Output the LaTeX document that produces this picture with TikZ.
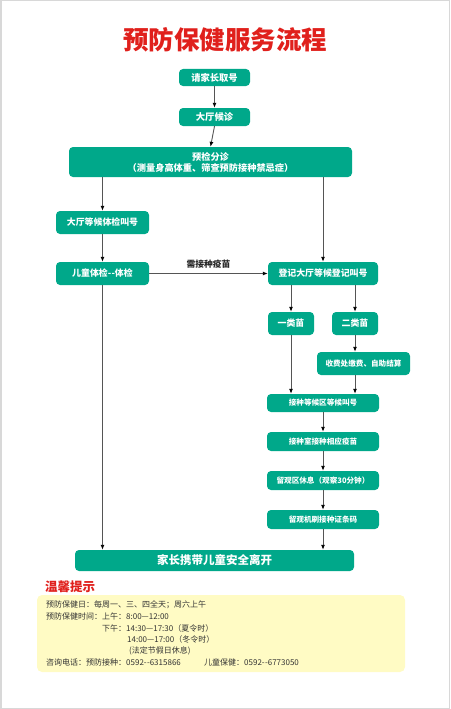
\documentclass[tikz,border=0pt]{standalone}
\usepackage{fontspec}
\setmainfont{Noto Sans CJK SC}
\newfontfamily\cjk{Noto Sans CJK SC}
\usetikzlibrary{arrows.meta}
\definecolor{teal1}{HTML}{00A88A}
\definecolor{titlered}{HTML}{E0201C}
\definecolor{noteyel}{HTML}{FFFBC4}
\definecolor{linegray}{HTML}{555555}
\definecolor{framegray}{HTML}{D8D8D8}
\newcommand{\dd}{-\kern0.3pt-}
\begin{document}
\begin{tikzpicture}[x=1pt,y=-1pt,
  box/.style={fill=teal1,rounded corners=4pt,text=white,font=\cjk\bfseries\fontsize{8.9}{10.5}\selectfont,inner sep=0pt,align=center},
  sbox/.style={box,font=\cjk\bfseries\fontsize{7.6}{9}\selectfont},
  arr/.style={draw=linegray,line width=0.9pt,-{Latex[length=5pt,width=4pt,color=black]}},
  note/.style={anchor=west,font=\cjk\fontsize{8}{9}\selectfont,text=black!80,inner sep=0pt}]
\useasboundingbox (0,0) rectangle (450,709);
\draw[framegray,line width=1.5pt] (0.75,0.75) rectangle (449.25,708.25);
\node[font=\cjk\bfseries\fontsize{25.5}{28}\selectfont,text=titlered] (title) at (225,40) {预防保健服务流程};
\node[box,minimum width=71pt,minimum height=17pt,font=\cjk\bfseries\fontsize{9.3}{10}\selectfont] (b1) at (214.5,77.5) {请家长取号};
\node[box,minimum width=71pt,minimum height=18pt,font=\cjk\bfseries\fontsize{9.3}{10}\selectfont] (b2) at (214.5,117) {大厅候诊};
\node[box,minimum width=283pt,minimum height=30pt,font=\cjk\bfseries\fontsize{9.2}{11}\selectfont] (b3) at (210.5,162) {预检分诊\\（测量身高体重、筛查预防接种禁忌症）};
\node[box,minimum width=93pt,minimum height=23pt] (b4) at (102.5,222.5) {大厅等候体检叫号};
\node[box,minimum width=93pt,minimum height=23pt] (b5) at (102.5,273.5) {儿童体检\dd 体检};
\node[box,minimum width=110pt,minimum height=23pt] (b6) at (323,273.5) {登记大厅等候登记叫号};
\node[box,minimum width=46pt,minimum height=23pt] (b7) at (291,323.5) {一类苗};
\node[box,minimum width=46pt,minimum height=23pt] (b8) at (355,323.5) {二类苗};
\node[sbox,minimum width=93pt,minimum height=23pt] (b9) at (363.5,363.5) {收费处缴费、自助结算};
\node[sbox,minimum width=112pt,minimum height=18pt] (b10) at (323,403) {接种等候区等候叫号};
\node[sbox,minimum width=112pt,minimum height=19pt] (b11) at (323,441.5) {接种室接种相应疫苗};
\node[sbox,minimum width=112pt,minimum height=19pt] (b12) at (323,480.5) {留观区休息（观察30分钟）};
\node[sbox,minimum width=112pt,minimum height=19pt] (b13) at (323,519.5) {留观机刷接种证条码};
\node[box,minimum width=279pt,minimum height=21pt,font=\cjk\bfseries\fontsize{11.5}{13}\selectfont] (b14) at (214.5,560.5) {家长携带儿童安全离开};
% arrows
\draw[arr] (b1.south) -- (b2.north);
\draw[arr] (b2.south) -- (b3.north);
\draw[arr] (b4.north |- b3.south) -- (b4.north);
\draw[arr] (b6.north |- b3.south) -- (b6.north);
\draw[arr] (b4.south) -- (b5.north);
\draw[arr] (b5.east) -- node[above=1pt,font=\cjk\bfseries\fontsize{8.8}{9}\selectfont,text=black!85] (lbl) {需接种疫苗} (b6.west);
\draw[arr] (b7.north |- b6.south) -- (b7.north);
\draw[arr] (b8.north |- b6.south) -- (b8.north);
\draw[arr] (b8.south) -- (b8.south |- b9.north);
\draw[arr] (b7.south) -- (b7.south |- b10.north);
\draw[arr] (b8.south |- b9.south) -- (b8.south |- b10.north);
\draw[arr] (b10.south) -- (b11.north);
\draw[arr] (b11.south) -- (b12.north);
\draw[arr] (b12.south) -- (b13.north);
\draw[arr] (b13.south) -- (b13.south |- b14.north);
\draw[arr] (b5.south) -- (b5.south |- b14.north);
% notes
\node[anchor=west,font=\cjk\bfseries\fontsize{12.5}{14}\selectfont,text=titlered,inner sep=0pt] (tip) at (45,586.5) {温馨提示};
\fill[noteyel,rounded corners=5pt] (37,595) rectangle (405,672);
\node[note] (n1) at (46,605) {预防保健日：每周一、三、四全天；周六上午};
\node[note] (n2) at (46,616.5) {预防保健时间：上午：8:00—12:00};
\node[note] (n3) at (102,628) {下午：14:30—17:30（夏令时）};
\node[note] (n4) at (127,639.5) {14:00—17:00（冬令时）};
\node[note] (n5) at (129,651) {(法定节假日休息)};
\node[note] (n6) at (46,662.5) {咨询电话：预防接种：0592\dd 6315866};
\node[note] (n7) at (204,662.5) {儿童保健：0592\dd 6773050};
\end{tikzpicture}
\end{document}
